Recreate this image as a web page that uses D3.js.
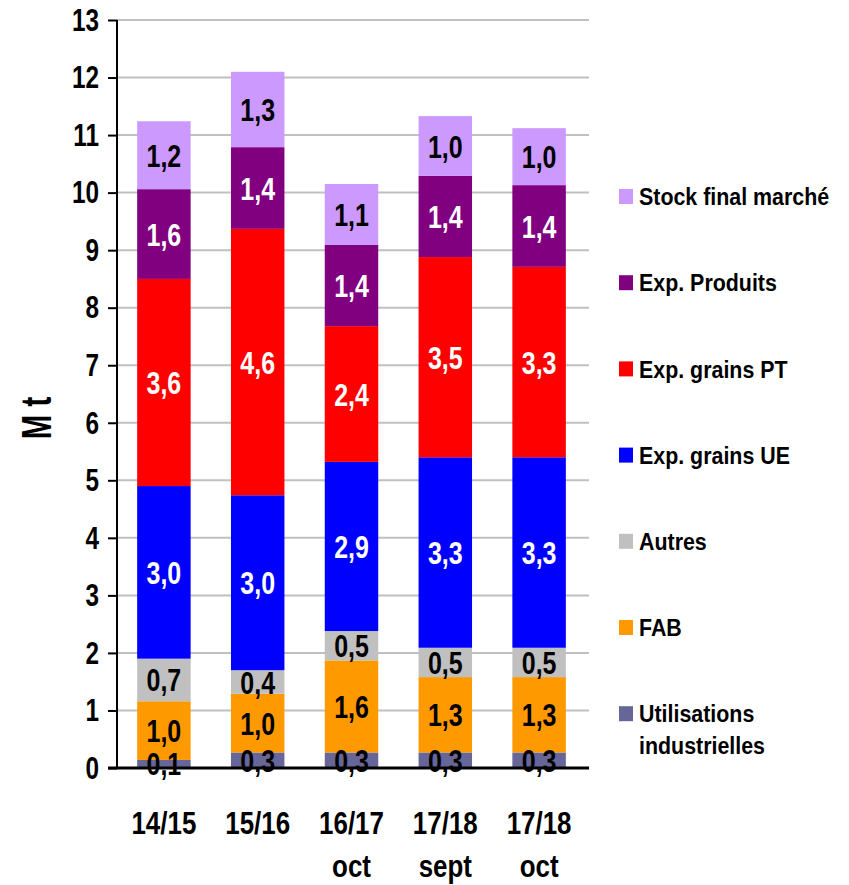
<!DOCTYPE html>
<html>
<head>
<meta charset="utf-8">
<script src="https://cdn.jsdelivr.net/npm/d3@7"></script>
<style>
  body { margin: 0; background: #fff; }
  svg { display: block; }
  .narrow { font-family: "Liberation Sans Narrow", "Arial Narrow", "Liberation Sans", Arial, sans-serif; font-weight: bold; }
  .wide { font-family: "Liberation Sans", Arial, sans-serif; font-weight: bold; }
</style>
</head>
<body>
<svg id="chart" width="849" height="885"></svg>
<script>
// campaigns (x axis), two lines each
const campaigns = ["14/15", "15/16", "16/17 oct", "17/18 sept", "17/18 oct"];
const campaignLines = [["14/15"], ["15/16"], ["16/17", "oct"], ["17/18", "sept"], ["17/18", "oct"]];

// series, bottom to top
const seriesNames = ["Utilisations industrielles", "FAB", "Autres", "Exp. grains UE", "Exp. grains PT", "Exp. Produits", "Stock final marché"];
const seriesColors = ["#666699", "#FF9900", "#C0C0C0", "#0000FF", "#FF0000", "#800080", "#CC99FF"];
const labelColors = ["#000", "#000", "#000", "#fff", "#fff", "#fff", "#000"];

// values in Mt
const utilIndus = [0.14, 0.27, 0.27, 0.27, 0.27];
const fab = [1.02, 1.02, 1.60, 1.31, 1.31];
const autres = [0.74, 0.41, 0.51, 0.51, 0.51];
const expUE = [3.00, 3.04, 2.94, 3.31, 3.31];
const expPT = [3.60, 4.63, 2.36, 3.48, 3.31];
const expProduits = [1.56, 1.42, 1.41, 1.41, 1.42];
const stockFinal = [1.18, 1.31, 1.06, 1.04, 0.99];

const yTicks = d3.range(0, 14);

const allSeries = [utilIndus, fab, autres, expUE, expPT, expProduits, stockFinal];

const svg = d3.select("#chart");
const margin = { top: 20, left: 117, right: 263, bottom: 117 };
const W = 849, H = 885;

// squeeze text horizontally (no condensed font installed)
function condense(sel, f) {
  sel.each(function () {
    const w = this.getComputedTextLength();
    d3.select(this).attr("textLength", w * f).attr("lengthAdjust", "spacingAndGlyphs");
  });
}

const x = d3.scaleBand()
  .domain(campaigns)
  .range([margin.left, W - margin.right])
  .paddingInner(0.43)
  .paddingOuter(0.215);

const y = d3.scaleLinear()
  .domain([0, 13])
  .range([H - margin.bottom, margin.top]);

// build table for stack
const table = campaigns.map((c, i) => {
  const row = { campaign: c };
  seriesNames.forEach((s, k) => row[s] = allSeries[k][i]);
  return row;
});
const stacked = d3.stack().keys(seriesNames)(table);

// gridlines
svg.append("g")
  .selectAll("line")
  .data(yTicks.filter(t => t > 0))
  .enter().append("line")
  .attr("x1", margin.left).attr("x2", W - margin.right + 3)
  .attr("y1", d => y(d)).attr("y2", d => y(d))
  .attr("stroke", "#c0c0c0")
  .attr("stroke-width", 2);

// bars
const layers = svg.append("g")
  .selectAll("g")
  .data(stacked)
  .enter().append("g")
  .attr("fill", (d, k) => seriesColors[k]);

layers.selectAll("rect")
  .data(d => d)
  .enter().append("rect")
  .attr("x", d => x(d.data.campaign))
  .attr("width", x.bandwidth())
  .attr("y", d => y(d[1]))
  .attr("height", d => y(d[0]) - y(d[1]));

// value labels
const fmt = v => v.toFixed(1).replace(".", ",");
stacked.forEach((layer, k) => {
  const lbl = svg.append("g")
    .selectAll("text")
    .data(layer)
    .enter().append("text")
    .attr("class", "narrow")
    .attr("x", d => x(d.data.campaign) + x.bandwidth() / 2)
    .attr("y", d => (y(d[0]) + y(d[1])) / 2)
    .attr("dy", "0.36em")
    .attr("text-anchor", "middle")
    .attr("font-size", 32)
    .attr("fill", labelColors[k])
    .text(d => fmt(d[1] - d[0]));
  condense(lbl, 0.78);
});

// y axis
const yAxis = svg.append("g")
  .attr("transform", `translate(${margin.left},0)`)
  .call(d3.axisLeft(y).tickValues(yTicks).tickSize(9).tickPadding(9).tickFormat(d3.format("d")));
yAxis.select(".domain").attr("stroke", "#000").attr("stroke-width", 2).attr("d", `M0,${y(13)}V${y(0)}`);
yAxis.selectAll(".tick line").attr("stroke", "#000").attr("stroke-width", 2);
yAxis.selectAll(".tick text")
  .attr("class", "narrow")
  .attr("font-size", 32)
  .attr("fill", "#000");
condense(yAxis.selectAll(".tick text"), 0.76);

// baseline
svg.append("line")
  .attr("x1", margin.left - 9).attr("x2", W - margin.right + 3)
  .attr("y1", y(0)).attr("y2", y(0))
  .attr("stroke", "#000").attr("stroke-width", 3);

// y title
const yTitle = svg.append("text")
  .attr("class", "wide")
  .attr("transform", `translate(51,418) rotate(-90)`)
  .attr("text-anchor", "middle")
  .attr("font-size", 42)
  .text("M t");
condense(yTitle, 0.7);

// x labels
const xl = svg.append("g")
  .selectAll("text")
  .data(campaigns)
  .enter().append("text")
  .attr("class", "narrow")
  .attr("text-anchor", "middle")
  .attr("font-size", 32)
  .attr("x", d => x(d) + x.bandwidth() / 2)
  .attr("y", 834);
xl.each(function (d, i) {
  const t = d3.select(this);
  campaignLines[i].forEach((line, j) => {
    t.append("tspan")
      .attr("x", x(d) + x.bandwidth() / 2)
      .attr("dy", j === 0 ? 0 : 43)
      .text(line);
  });
});
condense(xl.selectAll("tspan"), 0.81);

// legend, top to bottom
const legendItems = seriesNames.map((s, k) => ({ name: s, color: seriesColors[k] })).reverse();
const legendLines = { "Utilisations industrielles": ["Utilisations", "industrielles"] };
const legend = svg.append("g")
  .selectAll("g")
  .data(legendItems)
  .enter().append("g")
  .attr("transform", (d, i) => `translate(619,${197 + i * 86.2})`);
legend.append("rect")
  .attr("x", 0).attr("y", -8)
  .attr("width", 14).attr("height", 15)
  .attr("fill", d => d.color);
legend.append("text")
  .attr("class", "wide")
  .attr("font-size", 23)
  .attr("x", 20)
  .attr("y", 0)
  .each(function (d) {
    const lines = legendLines[d.name] || [d.name];
    const t = d3.select(this);
    lines.forEach((line, j) => {
      t.append("tspan").attr("x", 20).attr("dy", j === 0 ? "0.36em" : 32).text(line);
    });
  });
condense(legend.selectAll("tspan"), 0.93);
</script>
</body>
</html>
